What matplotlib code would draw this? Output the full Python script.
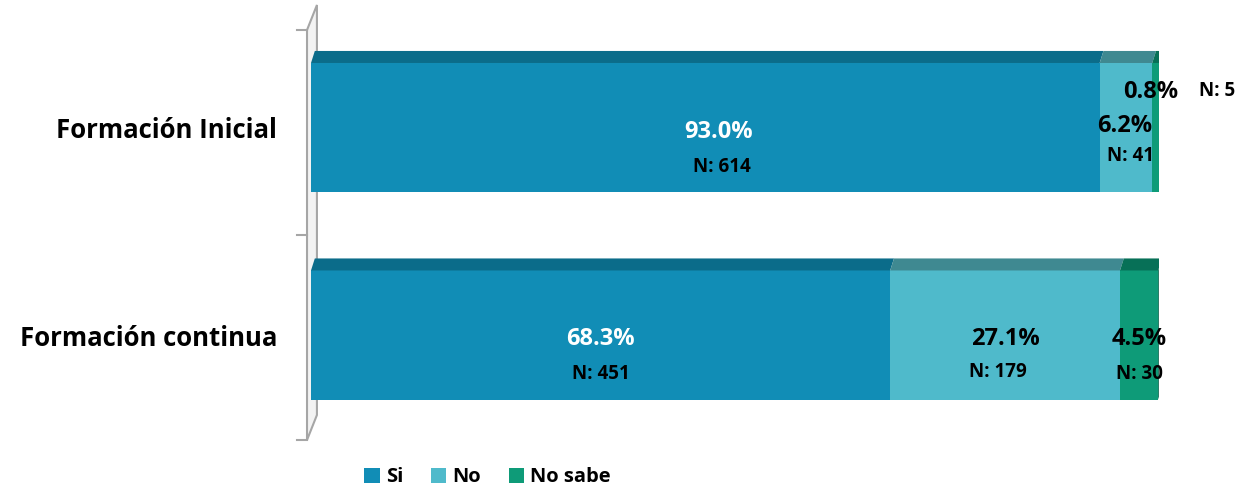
import matplotlib.pyplot as plt
from matplotlib.patches import Polygon, Patch
import numpy as np

categories = ['Formación Inicial', 'Formación continua']
series = ['Si', 'No', 'No sabe']
pct = {
    'Si': [93.0, 68.3],
    'No': [6.2, 27.1],
    'No sabe': [0.8, 4.5],
}
counts = {
    'Si': [614, 451],
    'No': [41, 179],
    'No sabe': [5, 30],
}

front_colors = {'Si': '#118DB6', 'No': '#4FBACB', 'No sabe': '#0E9B78'}
top_colors = {'Si': '#0B6C8A', 'No': '#3F8991', 'No sabe': '#077057'}
pct_colors = {'Si': 'white', 'No': 'black', 'No sabe': 'black'}

# label nudges (dx in %, dy in bar units) for crowded spots
pct_nudge = {('Si', 0): (1.6, 0), ('No', 0): (-0.2, -0.025), ('No sabe', 0): (-0.6, -0.19)}
n_nudge = {('Si', 0): (2.0, 0), ('No', 0): (0.5, -0.055), ('No sabe', 0): (7.2, -0.366),
           ('No', 1): (-0.8, -0.01)}

plt.rcParams['font.family'] = ['Open Sans', 'DejaVu Sans']

fig = plt.figure(figsize=(12.6, 4.9), dpi=100)
ax = fig.add_axes([311 / 1260, 50 / 490, 848 / 1260, 410 / 490])

bar_h = 0.622
depth = 0.058
dx = 0.45
y = np.arange(len(categories))

left = np.zeros(len(categories))
for s in series:
    vals = np.array(pct[s])
    ax.barh(y, vals, left=left, height=bar_h, color=front_colors[s], linewidth=0)
    for i in range(len(categories)):
        x0 = left[i]
        x1 = left[i] + vals[i]
        ytop = y[i] - bar_h / 2
        ax.add_patch(Polygon([(x0, ytop), (x1, ytop), (x1 + dx, ytop - depth), (x0 + dx, ytop - depth)],
                             closed=True, facecolor=top_colors[s], linewidth=0))
        if s == series[-1]:
            ybot = y[i] + bar_h / 2
            ax.add_patch(Polygon([(x1, ytop), (x1 + dx, ytop - depth), (x1 + dx, ybot - depth), (x1, ybot)],
                                 closed=True, facecolor='#06684F', linewidth=0))
        cx = x0 + vals[i] / 2
        ndx, ndy = pct_nudge.get((s, i), (0, 0))
        ax.text(cx + ndx, y[i] + 0.02 + ndy, '%.1f%%' % vals[i], ha='center', va='center',
                fontsize=17, fontweight='bold', color=pct_colors[s])
        ndx, ndy = n_nudge.get((s, i), (0, 0))
        ax.text(cx + ndx, y[i] + 0.19 + ndy, 'N: %d' % counts[s][i], ha='center', va='center',
                fontsize=13.5, fontweight='bold', color='black', clip_on=False)
    left = left + vals

ax.set_xlim(0, 100)
ax.set_ylim(1.506, -0.470)
ax.set_xticks([])

for sp in ['top', 'right', 'bottom', 'left']:
    ax.spines[sp].set_visible(False)

# side wall of the 3D chart
wall = Polygon([(-0.0047, 0), (-0.0047, 1), (0.007, 1.061), (0.007, 0.061)], closed=True,
               transform=ax.transAxes, facecolor='#F3F3F3', edgecolor='#A6A6A6', linewidth=1.5,
               clip_on=False, zorder=0)
ax.add_patch(wall)
ylo, yhi = ax.get_ylim()
for t in [ylo, (ylo + yhi) / 2, yhi]:
    ax.plot([-1.6, -0.47], [t, t], color='#A6A6A6', linewidth=1.5, clip_on=False)

ax.set_yticks(y)
ax.set_yticklabels(categories, fontsize=18.5, fontweight='bold')
ax.tick_params(axis='y', length=0, pad=24.5)

handles = [Patch(facecolor=front_colors[s], edgecolor='none') for s in series]
fig.legend(handles, series, loc='center', bbox_to_anchor=(0.387, 0.026), ncol=3, frameon=False,
           prop={'size': 14.5, 'weight': 'bold'}, handlelength=0.75, handleheight=0.75,
           handletextpad=0.3, columnspacing=1.4)

fig.savefig('out.png', dpi=100)
